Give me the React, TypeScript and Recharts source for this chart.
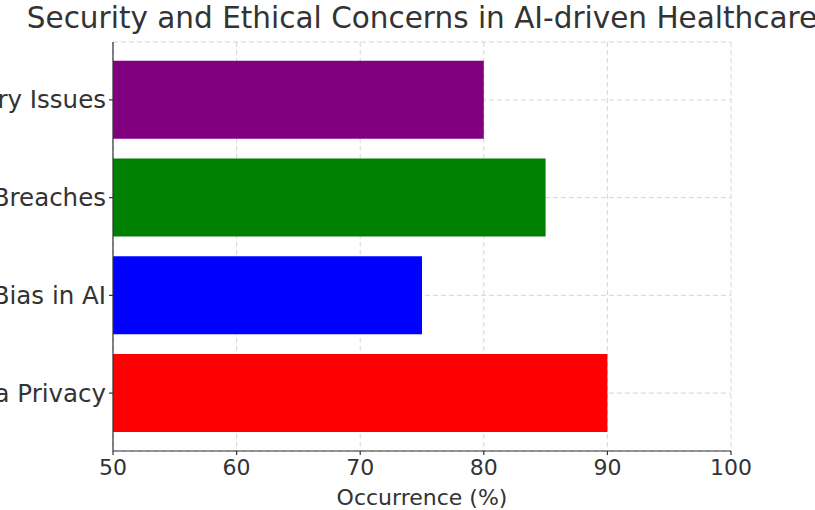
import React from "react";
import { BarChart, Bar, XAxis, YAxis, CartesianGrid, Cell } from "recharts";

const categories = ["Regulatory Issues", "Security Breaches", "Bias in AI", "Data Privacy"];
const occurrence = [80, 85, 75, 90];
const barColors = ["#800080", "#008000", "#0000ff", "#ff0000"];
const xTicks = [50, 60, 70, 80, 90, 100];

const data = categories.map((name, i) => ({ name, value: occurrence[i] }));

const FONT = "'DejaVu Sans', sans-serif";

const YTick = (props: any) => {
  const { x, y, payload } = props;
  return (
    <text
      x={x}
      y={y}
      textAnchor="end"
      dominantBaseline="central"
      fill="#333333"
      fontSize={24.5}
      fontFamily={FONT}
    >
      {payload.value}
    </text>
  );
};

export default function App() {
  return (
    <div
      style={{
        position: "absolute",
        left: 0,
        top: 0,
        width: 815,
        height: 510,
        overflow: "hidden",
        background: "#fff",
        fontFamily: FONT,
      }}
    >
      <div
        style={{
          position: "absolute",
          left: 422 - 600,
          width: 1200,
          top: 1,
          textAlign: "center",
          fontSize: 29.5,
          color: "#333333",
          whiteSpace: "nowrap",
          lineHeight: "34px",
        }}
      >
        Security and Ethical Concerns in AI-driven Healthcare
      </div>
      <div style={{ position: "absolute", left: 0, top: 0 }}>
        <BarChart
          width={815}
          height={510}
          data={data}
          layout="vertical"
          margin={{ top: 42, right: 84, bottom: 0, left: 0 }}
          barCategoryGap="10%"
          style={{ overflow: "visible" }}
        >
          <XAxis
            type="number"
            domain={[50, 100]}
            ticks={xTicks}
            allowDataOverflow
            height={59}
            tickSize={4}
            tickMargin={4}
            stroke="#333333"
            strokeWidth={1.2}
            tick={{ fill: "#333333", fontSize: 22, fontFamily: FONT }}
            label={{
              value: "Occurrence (%)",
              position: "insideBottom",
              offset: 5,
              fill: "#333333",
              fontSize: 22,
              fontFamily: FONT,
            }}
          />
          <YAxis
            type="category"
            dataKey="name"
            width={113}
            padding={{ top: 9, bottom: 9 }}
            tickSize={4}
            tickMargin={3}
            stroke="#333333"
            strokeWidth={1.2}
            tick={<YTick />}
          />
          <Bar dataKey="value" isAnimationActive={false}>
            {data.map((d, i) => (
              <Cell key={d.name} fill={barColors[i]} />
            ))}
          </Bar>
          <CartesianGrid stroke="#cccccc" strokeDasharray="5 3" strokeWidth={0.8} />
        </BarChart>
      </div>
    </div>
  );
}
